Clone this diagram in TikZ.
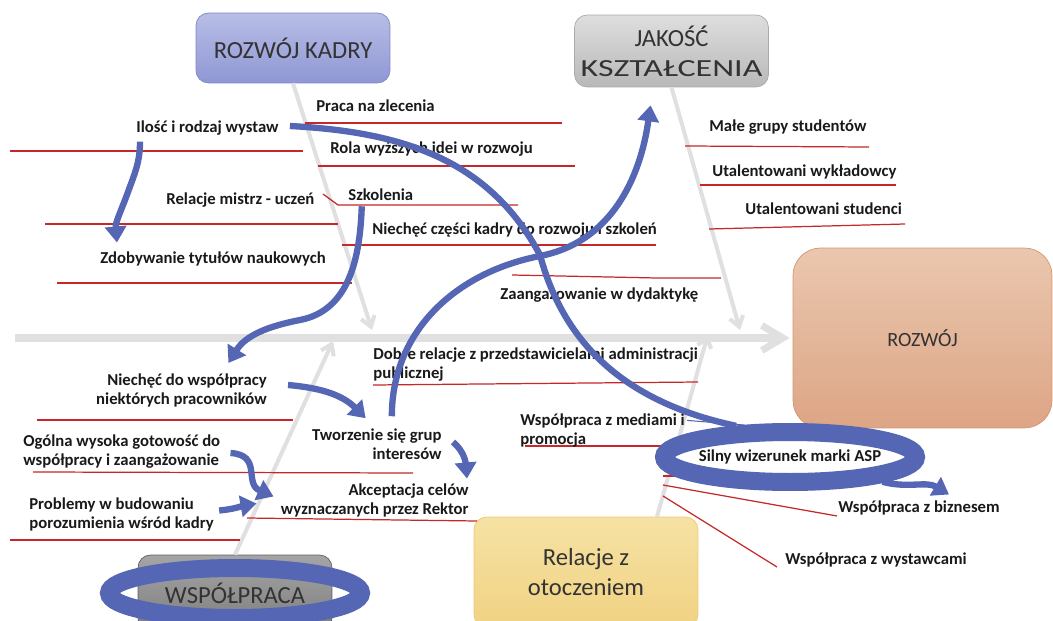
\documentclass[tikz,border=0pt]{standalone}
\usepackage{fontspec}
\setmainfont{Carlito}
\usepackage{xcolor}
\usetikzlibrary{arrows.meta,shapes.geometric,calc}

\definecolor{arrblue}{RGB}{84,102,180}
\definecolor{linered}{RGB}{196,40,40}
\definecolor{bonegray}{RGB}{224,224,224}
\definecolor{kadryT}{RGB}{184,190,230}
\definecolor{kadryB}{RGB}{143,151,212}
\definecolor{kadryD}{RGB}{125,135,200}
\definecolor{jakT}{RGB}{222,222,222}
\definecolor{jakB}{RGB}{184,184,184}
\definecolor{jakD}{RGB}{170,170,170}
\definecolor{rozT}{RGB}{234,199,175}
\definecolor{rozB}{RGB}{221,165,133}
\definecolor{rozD}{RGB}{215,150,110}
\definecolor{relT}{RGB}{246,226,165}
\definecolor{relB}{RGB}{240,210,130}
\definecolor{relD}{RGB}{240,200,100}
\definecolor{wspT}{RGB}{165,165,165}
\definecolor{wspB}{RGB}{125,125,125}
\definecolor{wspD}{RGB}{95,95,95}

\begin{document}
\begin{tikzpicture}[x=0.02cm, y=-0.02cm,
  lbl/.style={font=\fontsize{9.5}{10.8}\selectfont\bfseries, text=black!90, inner sep=0pt},
  box/.style={draw, rounded corners=0.25cm, align=center, font=\fontsize{14}{17}\selectfont, text=black!80, minimum width=3.88cm, minimum height=1.4cm},
  bone/.style={bonegray, line width=2.3pt, -{Straight Barb[length=0.2cm,width=0.28cm]}},
  spine/.style={bonegray, line width=4pt, -{Straight Barb[length=0.42cm,width=0.5cm]}},
  redline/.style={linered, line width=0.7pt},
  bluecurve/.style={arrblue, line width=3.6pt},
  arr/.style={bluecurve, -{Triangle[width=0.42cm,length=0.32cm]}},
  ring/.style={draw=arrblue, line width=0.36cm}]
\useasboundingbox (0,0) rectangle (1053,621);
\clip (0,0) rectangle (1053,621);

% main boxes
\node[box, top color=kadryT, bottom color=kadryB, draw=kadryD] (kadry) at (293,48) {ROZWÓJ KADRY};
\node[box, top color=jakT, bottom color=jakB, draw=jakD, minimum height=1.44cm, inner xsep=1pt] (jakosc) at (671.5,51) {JAKOŚĆ\\\scalebox{1.38}[1]{KSZTAŁCENIA}};
\node[box, top color=rozT, bottom color=rozB, draw=rozD, minimum width=5.18cm, minimum height=3.6cm, rounded corners=0.55cm, font=\fontsize{11.5}{14}\selectfont] (rozwoj) at (922.5,338) {ROZWÓJ};
\node[box, top color=relT, bottom color=relB, draw=relD, minimum width=4.48cm, minimum height=2.2cm] (relacje) at (586,572) {Relacje z\\otoczeniem};
\node[box, top color=wspT, bottom color=wspB, draw=wspD, minimum height=1.52cm] (wsp) at (235,593) {WSPÓŁPRACA};

% spine and bones
\coordinate (sp0) at (15,338);
\coordinate (kadryTip) at (372,330);
\coordinate (jakTip) at (740,330);
\coordinate (wspTip) at (333,341);
\coordinate (relTip) at (708,334);
\draw[spine] (sp0) -- ([xshift=-0.06cm]rozwoj.west);
\draw[bone] (kadry.south) -- (kadryTip);
\draw[bone] (jakosc.south) -- (jakTip);
\draw[bone] (wsp.north) -- (wspTip);
\draw[bone] ($(relacje.north)+(71,0)$) -- (relTip);

% red sub-bones
\draw[redline] (305,123) -- (562,123);
\draw[redline] (10,151) -- (303,151);
\draw[redline] (318,166) -- (575,166);
\draw[redline] (323,194) -- (338,205) -- (518,205);
\draw[redline] (45,224) -- (338,224);
\draw[redline] (342,245) -- (656,245);
\draw[redline] (57,283) -- (352,283);
\draw[redline] (512,275) -- (657,278) -- (721,278);
\draw[redline] (685,146) -- (869,147);
\draw[redline] (700,185) -- (896,185);
\draw[redline] (709,229) -- (905,224);
\draw[redline] (37,420) -- (293,420);
\draw[redline] (33,472) -- (413,473);
\draw[redline] (10,540) -- (240,540);
\draw[redline] (247,518) -- (477,521);
\draw[redline] (373,385) -- (698,382);
\draw[redline] (525,446) -- (680,446);
\draw[redline] (663,476) -- (760,476);
\draw[redline] (663,485) -- (837,516);
\draw[redline] (663,496) -- (777,567);

% rings
\node[ring, ellipse, fill=white, minimum width=5.04cm, minimum height=1cm, inner sep=0pt] (aspring) at (790,457) {};
\draw[ring] (wsp.center) ellipse [x radius=2.52cm, y radius=0.5cm];

% labels
\node[lbl, anchor=west] (praca) at (316,106) {Praca na zlecenia};
\node[lbl, anchor=west] (ilosc) at (136,128) {Ilość i rodzaj wystaw};
\node[lbl, anchor=west] (rola) at (330,149) {Rola wyższych idei w rozwoju};
\node[lbl, anchor=west] (mistrz) at (166,200) {Relacje mistrz - uczeń};
\node[lbl, anchor=west] (szkol) at (348,195) {Szkolenia};
\node[lbl, anchor=west] (niechec) at (372,230) {Niechęć części kadry do rozwoju i szkoleń};
\node[lbl, anchor=west] (zdob) at (100,259) {Zdobywanie tytułów naukowych};
\node[lbl, anchor=west] (zaang) at (500,295) {Zaangażowanie w dydaktykę};
\node[lbl, anchor=west] (male) at (709,127) {Małe grupy studentów};
\node[lbl, anchor=west] (wykl) at (712,172) {Utalentowani wykładowcy};
\node[lbl, anchor=west] (stud) at (745,209) {Utalentowani studenci};
\node[lbl, anchor=west, align=left] (dobre) at (373,364.5) {Dobre relacje z przedstawicielami administracji\\publicznej};
\node[lbl, anchor=west, align=left] (media) at (520,430.5) {Współpraca z mediami i\\promocja};
\node[lbl, anchor=east, align=right] (niewsp) at (267,390) {Niechęć do współpracy\\niektórych pracowników};
\node[lbl, anchor=west, align=left] (ogolna) at (23,452) {Ogólna wysoka gotowość do\\współpracy i zaangażowanie};
\node[lbl, anchor=west, align=left] (problemy) at (29,514.5) {Problemy w budowaniu\\porozumienia wśród kadry};
\node[lbl, anchor=east, align=right] (tworz) at (442,444) {Tworzenie się grup\\interesów};
\node[lbl, anchor=east, align=right] (akcept) at (469,500.5) {Akceptacja celów\\wyznaczanych przez Rektor};
\node[lbl] (asp) at (aspring.center) {Silny wizerunek marki ASP};
\node[lbl, anchor=west] (biznes) at (838,508) {Współpraca z biznesem};
\node[lbl, anchor=west] (wystaw) at (785,560) {Współpraca z wystawcami};

% blue arrows
\coordinate (aMid) at (540,255);
\coordinate (bMid) at (540,256);
\coordinate (cMid) at (300,320);
\coordinate (dMid) at (128,192);
\draw[bluecurve] ($(ilosc.east)+(11,-2)$) to[out=-3,in=118] (aMid) to[out=-75,in=168] (aspring.150);
\draw[arr] ($(tworz.north)+(15,-12)$) to[out=90,in=191] (bMid) to[out=11,in=-98] ($(jakosc.south)+(-21,18)$);
\draw[arr] ($(szkol.south)+(-19,5)$) to[out=-92,in=11] (cMid) to[out=191,in=58] ($(niewsp.north)+(47,-10)$);
\draw[arr] ($(ilosc.south west)+(4,6)$) to[out=-90,in=70] (dMid) to[out=-110,in=95] ($(zdob.north west)+(17,-9)$);
\draw[arr] ($(niewsp.east)+(21,-5)$) to[out=-5,in=135] ($(tworz.north west)+(54,-10)$);
\draw[arr] ($(tworz.east)+(11,-2)$) to[out=-40,in=95] ($(akcept.north east)+(-2,-5)$);
\draw[arr] ($(ogolna.east)+(10,1)$) .. controls +(32,2) and +(-30,-13) .. ($(akcept.west)+(-7,-4)$);
\draw[arr] ($(problemy.east)+(5,-4)$) to[out=5,in=190] ($(akcept.west)+(-24,3)$);
\draw[arr] (aspring.-15) to[out=-15,in=149] ($(biznes.north)+(30,-6)$);
\draw[arrblue, line width=0.6pt] ($(media.north east)+(2,7)$) -- (aspring.145);
\end{tikzpicture}
\end{document}
